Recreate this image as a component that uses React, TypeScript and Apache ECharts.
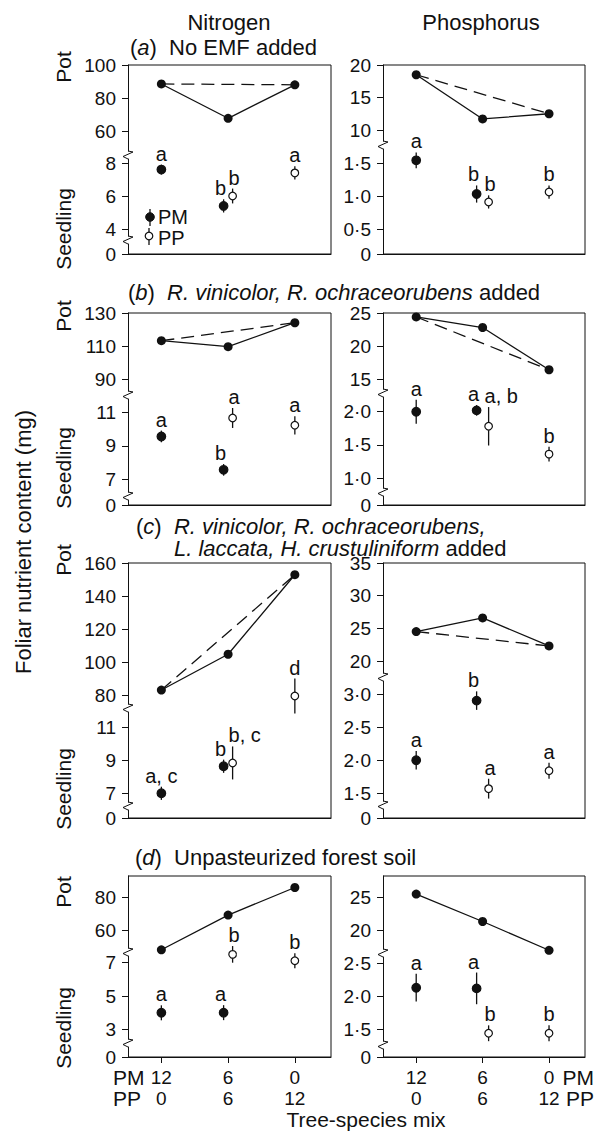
import React, { useEffect, useRef } from 'react';
import * as echarts from 'echarts';

const W = 597;
const H = 1131;
const FONT = '"Liberation Sans", Arial, Helvetica, sans-serif';
const INK = '#111';

// ---------- data ----------
// tree-species mix: number of PM / PP seedlings per pot
const pmCounts = [12, 6, 0];
const ppCounts = [0, 6, 12];
const pmSeedX = [12, 6]; // treatments containing PM seedlings
const ppSeedX = [6, 0]; // treatments containing PP seedlings (x = PM count)

// (a) No EMF added
const aN_pot = [88.5, 67.7, 88.0];
const aN_pm = [7.6, 5.4];
const aN_pmErr = [0.3, 0.4];
const aN_pmSig = ['a', 'b'];
const aN_pp = [6.0, 7.4];
const aN_ppErr = [0.45, 0.4];
const aN_ppSig = ['b', 'a'];
const aN_potTicks = [60, 80, 100];
const aN_seedTicks = [4, 6, 8];

const aP_pot = [18.5, 11.7, 12.5];
const aP_pm = [1.54, 1.03];
const aP_pmErr = [0.12, 0.13];
const aP_pmSig = ['a', 'b'];
const aP_pp = [0.91, 1.06];
const aP_ppErr = [0.1, 0.1];
const aP_ppSig = ['b', 'b'];
const aP_potTicks = [10, 15, 20];
const aP_seedTicks = [0.5, 1.0, 1.5];

// (b) R. vinicolor, R. ochraceorubens added
const bN_pot = [113.2, 109.6, 124.1];
const bN_pm = [9.56, 7.55];
const bN_pmErr = [0.35, 0.35];
const bN_pmSig = ['a', 'b'];
const bN_pp = [10.67, 10.23];
const bN_ppErr = [0.6, 0.55];
const bN_ppSig = ['a', 'a'];
const bN_potTicks = [90, 110, 130];
const bN_seedTicks = [7, 9, 11];

const bP_pot = [24.4, 22.8, 16.4];
const bP_pm = [2.0, 2.02];
const bP_pmErr = [0.18, 0.08];
const bP_pmSig = ['a', 'a'];
const bP_pp = [1.78, 1.36];
const bP_ppErr = [0.29, 0.11];
const bP_ppSig = ['a, b', 'b'];
const bP_potTicks = [15, 20, 25];
const bP_seedTicks = [1.0, 1.5, 2.0];

// (c) R. vinicolor, R. ochraceorubens, L. laccata, H. crustuliniform added
const cN_pot = [83.0, 104.7, 152.9];
const cN_pm = [7.0, 8.64];
const cN_pmErr = [0.4, 0.4];
const cN_pmSig = ['a, c', 'b'];
const cN_pp = [8.84, 79.4];
const cN_ppErr = [1.0, 10.6];
const cN_ppSig = ['b, c', 'd'];
const cN_potTicks = [80, 100, 120, 140, 160];
const cN_seedTicks = [7, 9, 11];

const cP_pot = [24.5, 26.6, 22.3];
const cP_pm = [2.0, 2.9];
const cP_pmErr = [0.14, 0.14];
const cP_pmSig = ['a', 'b'];
const cP_pp = [1.57, 1.84];
const cP_ppErr = [0.15, 0.12];
const cP_ppSig = ['a', 'a'];
const cP_potTicks = [20, 25, 30, 35];
const cP_seedTicks = [1.5, 2.0, 2.5, 3.0];

// (d) Unpasteurized forest soil
const dN_pot = [47.9, 69.1, 86.0];
const dN_pm = [3.99, 4.0];
const dN_pmErr = [0.45, 0.45];
const dN_pmSig = ['a', 'a'];
const dN_pp = [7.5, 7.12];
const dN_ppErr = [0.5, 0.45];
const dN_ppSig = ['b', 'b'];
const dN_potTicks = [60, 80];
const dN_seedTicks = [3, 5, 7];

const dP_pot = [25.5, 21.3, 16.9];
const dP_pm = [2.13, 2.12];
const dP_pmErr = [0.21, 0.24];
const dP_pmSig = ['a', 'a'];
const dP_pp = [1.44, 1.44];
const dP_ppErr = [0.12, 0.12];
const dP_ppSig = ['b', 'b'];
const dP_potTicks = [20, 25];
const dP_seedTicks = [1.5, 2.0, 2.5];

const panels = [
  { key: 'aN', row: 'a', col: 'N', pot: aN_pot, pm: aN_pm, pmErr: aN_pmErr, pmSig: aN_pmSig, pp: aN_pp, ppErr: aN_ppErr, ppSig: aN_ppSig, potTicks: aN_potTicks, seedTicks: aN_seedTicks, expected: true },
  { key: 'aP', row: 'a', col: 'P', pot: aP_pot, pm: aP_pm, pmErr: aP_pmErr, pmSig: aP_pmSig, pp: aP_pp, ppErr: aP_ppErr, ppSig: aP_ppSig, potTicks: aP_potTicks, seedTicks: aP_seedTicks, expected: true },
  { key: 'bN', row: 'b', col: 'N', pot: bN_pot, pm: bN_pm, pmErr: bN_pmErr, pmSig: bN_pmSig, pp: bN_pp, ppErr: bN_ppErr, ppSig: bN_ppSig, potTicks: bN_potTicks, seedTicks: bN_seedTicks, expected: true },
  { key: 'bP', row: 'b', col: 'P', pot: bP_pot, pm: bP_pm, pmErr: bP_pmErr, pmSig: bP_pmSig, pp: bP_pp, ppErr: bP_ppErr, ppSig: bP_ppSig, potTicks: bP_potTicks, seedTicks: bP_seedTicks, expected: true },
  { key: 'cN', row: 'c', col: 'N', pot: cN_pot, pm: cN_pm, pmErr: cN_pmErr, pmSig: cN_pmSig, pp: cN_pp, ppErr: cN_ppErr, ppSig: cN_ppSig, potTicks: cN_potTicks, seedTicks: cN_seedTicks, expected: true },
  { key: 'cP', row: 'c', col: 'P', pot: cP_pot, pm: cP_pm, pmErr: cP_pmErr, pmSig: cP_pmSig, pp: cP_pp, ppErr: cP_ppErr, ppSig: cP_ppSig, potTicks: cP_potTicks, seedTicks: cP_seedTicks, expected: true },
  { key: 'dN', row: 'd', col: 'N', pot: dN_pot, pm: dN_pm, pmErr: dN_pmErr, pmSig: dN_pmSig, pp: dN_pp, ppErr: dN_ppErr, ppSig: dN_ppSig, potTicks: dN_potTicks, seedTicks: dN_seedTicks, expected: false },
  { key: 'dP', row: 'd', col: 'P', pot: dP_pot, pm: dP_pm, pmErr: dP_pmErr, pmSig: dP_pmSig, pp: dP_pp, ppErr: dP_ppErr, ppSig: dP_ppSig, potTicks: dP_potTicks, seedTicks: dP_seedTicks, expected: false },
];

// ---------- layout ----------
const X_MIN = -3.25;
const X_MAX = 15;
const COLS: Record<string, [number, number]> = { N: [128, 331], P: [383, 585] };
const DODGE: Record<string, number> = { N: 4.5, P: 6 };
const ROWS: Record<string, [number, number]> = { a: [65, 254], b: [313, 505], c: [563, 818], d: [876, 1057] };
const GAP = 8;
// axis calibration: [lowTickValue, its px, highTickValue, its px]
const CAL: Record<string, any> = {
  aN: { breakA: 155, breakB: 240, pot: [60, 131, 100, 65], seed: [4, 229, 8, 163], zig2: true },
  aP: { breakA: 145, breakB: 241, pot: [10, 130, 20, 65], seed: [0.5, 229, 1.5, 163], zig2: false },
  bN: { breakA: 395, breakB: 496, pot: [90, 379, 130, 313], seed: [7, 479, 11, 412.5], zig2: true },
  bP: { breakA: 393, breakB: 492, pot: [15, 379, 25, 313], seed: [1, 478, 2, 411.7], zig2: true },
  cN: { breakA: 708, breakB: 806, pot: [80, 695, 160, 563], seed: [7, 793.3, 11, 727.3], zig2: true },
  cP: { breakA: 677, breakB: 805, pot: [20, 661, 35, 563], seed: [1.5, 793.3, 3, 694], zig2: true },
  dN: { breakA: 952, breakB: 1043, pot: [60, 930, 80, 897.3], seed: [3, 1029.3, 7, 962.7], zig2: true },
  dP: { breakA: 953, breakB: 1045, pot: [20, 930, 25, 897.3], seed: [1.5, 1029.3, 2.5, 963.3], zig2: true },
};
const ROW_LABEL_Y: Record<string, [number, number]> = { a: [67, 229], b: [316, 468], c: [560, 789], d: [892, 1028] };

function axisRange(cal: number[], topPx: number, bottomPx: number): [number, number] {
  const [v1, p1, v2, p2] = cal;
  const k = (p1 - p2) / (v2 - v1);
  return [v1 - (bottomPx - p1) / k, v2 + (p2 - topPx) / k];
}

function fmtTick(col: string, part: number) {
  return (v: number) => {
    if (part === 2) return '0';
    if (col === 'P' && part === 1) return v.toFixed(1).replace('.', '\u00b7');
    return String(v);
  };
}

function seedSeries(axisIdx: number, xs: number[], means: number[], errs: number[], sigs: string[], filled: boolean, dodge: number, keep: (m: number) => boolean) {
  const data = means
    .map((m, i) => [xs[i], m, m - errs[i], m + errs[i], i])
    .filter((d) => keep(d[1] as number));
  return {
    type: 'custom',
    coordinateSystem: 'cartesian2d',
    xAxisIndex: axisIdx,
    yAxisIndex: axisIdx,
    clip: false,
    silent: true,
    z: 5,
    data,
    renderItem: (params: any, api: any) => {
      const x = api.value(0);
      const pc = api.coord([x, api.value(1)]);
      const pl = api.coord([x, api.value(2)]);
      const ph = api.coord([x, api.value(3)]);
      const sig = sigs[api.value(4)];
      const mixed = pmSeedX.includes(x) && ppSeedX.includes(x);
      const cx = pc[0] + (mixed ? dodge : 0);
      const wide = sig.length > 1 && mixed && dodge > 0;
      const lx = wide ? cx - 4 : mixed ? cx + (dodge < 0 ? -3 : 1.5) : cx;
      return {
        type: 'group',
        children: [
          { type: 'line', shape: { x1: cx, y1: pl[1], x2: cx, y2: ph[1] }, style: { stroke: INK, lineWidth: 1.3 } },
          { type: 'circle', shape: { cx, cy: pc[1], r: filled ? 4.3 : 3.8 }, style: { fill: filled ? INK : '#fff', stroke: INK, lineWidth: 1.2 } },
          { type: 'text', style: { text: sig, x: lx, y: ph[1] - 2, align: wide ? 'left' : 'center', verticalAlign: 'bottom', fontSize: 20, lineHeight: 18, fontFamily: FONT, fill: INK } },
        ],
      };
    },
  };
}

function zig(x: number, y: number) {
  return {
    type: 'polyline',
    shape: { points: [[x, y - GAP / 2], [x + 5, y - 3], [x - 5, y + 1.5], [x, y + GAP / 2]] },
    style: { stroke: INK, lineWidth: 1, fill: 'none' },
    silent: true,
  };
}

function txt(text: string, x: number, y: number, opts: any = {}) {
  const { rotation, ...style } = opts;
  return {
    type: 'text',
    x,
    y,
    rotation: rotation || 0,
    silent: true,
    style: { text, fontSize: 21, lineHeight: 17, fontFamily: FONT, fill: INK, align: 'left', verticalAlign: 'middle', ...style },
  };
}

const RICH = {
  n: { fontSize: 22, lineHeight: 17, fontFamily: FONT, fill: INK },
  i: { fontSize: 22, lineHeight: 17, fontFamily: FONT, fontStyle: 'italic', fill: INK },
};

function richTitle(letter: string, italicPart: string, plainPart: string, x: number, y: number) {
  const it = italicPart ? `{i|${italicPart}}` : '';
  return {
    type: 'text',
    x,
    y,
    silent: true,
    style: {
      text: `{n|(}{i|${letter}}{n|)\u00a0\u00a0}${it}{n|${plainPart}}`,
      verticalAlign: 'middle',
      align: 'left',
      rich: RICH,
    },
  };
}

function buildOption() {
  const grid: any[] = [];
  const xAxis: any[] = [];
  const yAxis: any[] = [];
  const series: any[] = [];
  const graphic: any[] = [];

  panels.forEach((p, pi) => {
    const [L, R] = COLS[p.col];
    const [T, B] = ROWS[p.row];
    const c = CAL[p.key];
    const g2 = c.zig2 ? GAP / 2 : 0;
    const boxes = [
      [T, c.breakA - GAP / 2],
      [c.breakA + GAP / 2, c.breakB - g2],
      [c.breakB + g2, B],
    ];
    const ranges = [axisRange(c.pot, boxes[0][0], boxes[0][1]), axisRange(c.seed, boxes[1][0], boxes[1][1]), [0, 1]];
    const ticks = [p.potTicks, p.seedTicks, [0]];

    boxes.forEach(([t, b], k) => {
      const gi = pi * 3 + k;
      grid.push({ left: L, top: t, width: R - L, height: b - t, containLabel: false, outerBoundsMode: 'none', show: false });
      const bottomAxis = k === 2;
      const lastRow = bottomAxis && p.row === 'd';
      xAxis.push({
        type: 'value',
        gridIndex: gi,
        min: X_MIN,
        max: X_MAX,
        inverse: true,
        show: bottomAxis,
        position: 'bottom',
        axisLine: { show: true, onZero: false, lineStyle: { color: INK, width: 1 } },
        axisTick: { show: lastRow, inside: false, length: 6, customValues: pmCounts, lineStyle: { color: INK, width: 1 } },
        axisLabel: {
          show: lastRow,
          customValues: pmCounts,
          margin: 10,
          fontSize: 19,
          lineHeight: 21,
          fontFamily: FONT,
          color: INK,
          formatter: (v: number) => {
            const i = pmCounts.indexOf(v);
            return `${pmCounts[i]}\n${ppCounts[i]}`;
          },
        },
        splitLine: { show: false },
      });
      yAxis.push({
        type: 'value',
        gridIndex: gi,
        min: ranges[k][0],
        max: ranges[k][1],
        axisLine: { show: true, onZero: false, lineStyle: { color: INK, width: 1 } },
        axisTick: { show: true, inside: false, length: 6, customValues: ticks[k], lineStyle: { color: INK, width: 1 } },
        axisLabel: { show: true, customValues: ticks[k], formatter: fmtTick(p.col, k), margin: 12, fontSize: 19, lineHeight: 15, fontFamily: FONT, color: INK },
        splitLine: { show: false },
      });
    });

    const potIdx = pi * 3;
    const seedIdx = pi * 3 + 1;
    const potMin = ranges[0][0];
    const dodge = DODGE[p.col];

    // pot totals (measured)
    series.push({
      type: 'line',
      xAxisIndex: potIdx,
      yAxisIndex: potIdx,
      data: pmCounts.map((x, i) => [x, p.pot[i]]),
      symbol: 'circle',
      symbolSize: 9,
      itemStyle: { color: INK },
      lineStyle: { color: INK, width: 1.3 },
      clip: false,
      silent: true,
      z: 4,
    });
    // expected line between the two monocultures
    if (p.expected) {
      series.push({
        type: 'line',
        xAxisIndex: potIdx,
        yAxisIndex: potIdx,
        data: [
          [pmCounts[0], p.pot[0]],
          [pmCounts[2], p.pot[2]],
        ],
        symbol: 'none',
        lineStyle: { color: INK, width: 1.3, type: [13, 7] },
        clip: false,
        silent: true,
        z: 3,
      });
    }
    // seedlings (values above the break are drawn on the upper scale)
    series.push(seedSeries(seedIdx, pmSeedX, p.pm, p.pmErr, p.pmSig, true, -dodge, (m) => m < potMin));
    series.push(seedSeries(seedIdx, ppSeedX, p.pp, p.ppErr, p.ppSig, false, dodge, (m) => m < potMin));
    if (p.pp.some((m) => m >= potMin)) {
      series.push(seedSeries(potIdx, ppSeedX, p.pp, p.ppErr, p.ppSig, false, dodge, (m) => m >= potMin));
    }

    // frame (top, right, bottom) and axis breaks
    graphic.push({
      type: 'polyline',
      silent: true,
      shape: { points: [[L, T], [R, T], [R, B], [L, B]] },
      style: { stroke: INK, lineWidth: 1, fill: 'none' },
    });
    graphic.push(zig(L, c.breakA));
    if (c.zig2) graphic.push(zig(L, c.breakB));

    if (p.col === 'N') {
      const [py, sy] = ROW_LABEL_Y[p.row];
      graphic.push(txt('Pot', 63, py, { rotation: Math.PI / 2, align: 'center' }));
      graphic.push(txt('Seedling', 63, sy, { rotation: Math.PI / 2, align: 'center' }));
    }
  });

  // column headers and panel titles
  graphic.push(txt('Nitrogen', 229, 22, { align: 'center', fontSize: 22 }));
  graphic.push(txt('Phosphorus', 481, 22, { align: 'center', fontSize: 22 }));
  graphic.push(richTitle('a', '', 'No EMF added', 130, 47));
  graphic.push(richTitle('b', 'R. vinicolor, R. ochraceorubens', ' added', 128, 292));
  graphic.push(richTitle('c', 'R. vinicolor, R. ochraceorubens,', '', 136, 526));
  graphic.push({
    type: 'text',
    x: 174,
    y: 548,
    silent: true,
    style: {
      text: '{i|L. laccata, H. crustuliniform}{n| added}',
      verticalAlign: 'middle',
      rich: RICH,
    },
  });
  graphic.push(richTitle('d', '', 'Unpasteurized forest soil', 135, 857));

  // legend
  graphic.push({ type: 'line', silent: true, shape: { x1: 150, y1: 209, x2: 150, y2: 226 }, style: { stroke: INK, lineWidth: 1.3 } });
  graphic.push({ type: 'circle', silent: true, shape: { cx: 150, cy: 217, r: 4.3 }, style: { fill: INK, stroke: INK } });
  graphic.push(txt('PM', 158, 217, { fontSize: 20, lineHeight: 16 }));
  graphic.push({ type: 'line', silent: true, shape: { x1: 149, y1: 228, x2: 149, y2: 245 }, style: { stroke: INK, lineWidth: 1.3 } });
  graphic.push({ type: 'circle', silent: true, shape: { cx: 149, cy: 236, r: 3.8 }, style: { fill: '#fff', stroke: INK, lineWidth: 1.2 } });
  graphic.push(txt('PP', 158, 237.5, { fontSize: 20, lineHeight: 16 }));

  // axis titles and mix row labels
  graphic.push(txt('Foliar nutrient content (mg)', 23, 542, { rotation: Math.PI / 2, align: 'center', fontSize: 22 }));
  graphic.push(txt('Tree-species mix', 366, 1119, { align: 'center' }));
  graphic.push(txt('PM', 113, 1077));
  graphic.push(txt('PP', 113, 1098));
  graphic.push(txt('PM', 594, 1077, { align: 'right' }));
  graphic.push(txt('PP', 594, 1098, { align: 'right' }));

  return {
    animation: false,
    backgroundColor: '#fff',
    textStyle: { fontFamily: FONT },
    grid,
    xAxis,
    yAxis,
    series,
    graphic: { elements: graphic },
  };
}

export default function App() {
  const ref = useRef<HTMLDivElement>(null);
  useEffect(() => {
    if (!ref.current) return;
    const chart = echarts.init(ref.current, null, { renderer: 'svg', width: W, height: H });
    chart.setOption(buildOption() as any);
    return () => chart.dispose();
  }, []);
  return <div ref={ref} style={{ position: 'absolute', left: 0, top: 0, width: W, height: H, background: '#fff' }} />;
}
